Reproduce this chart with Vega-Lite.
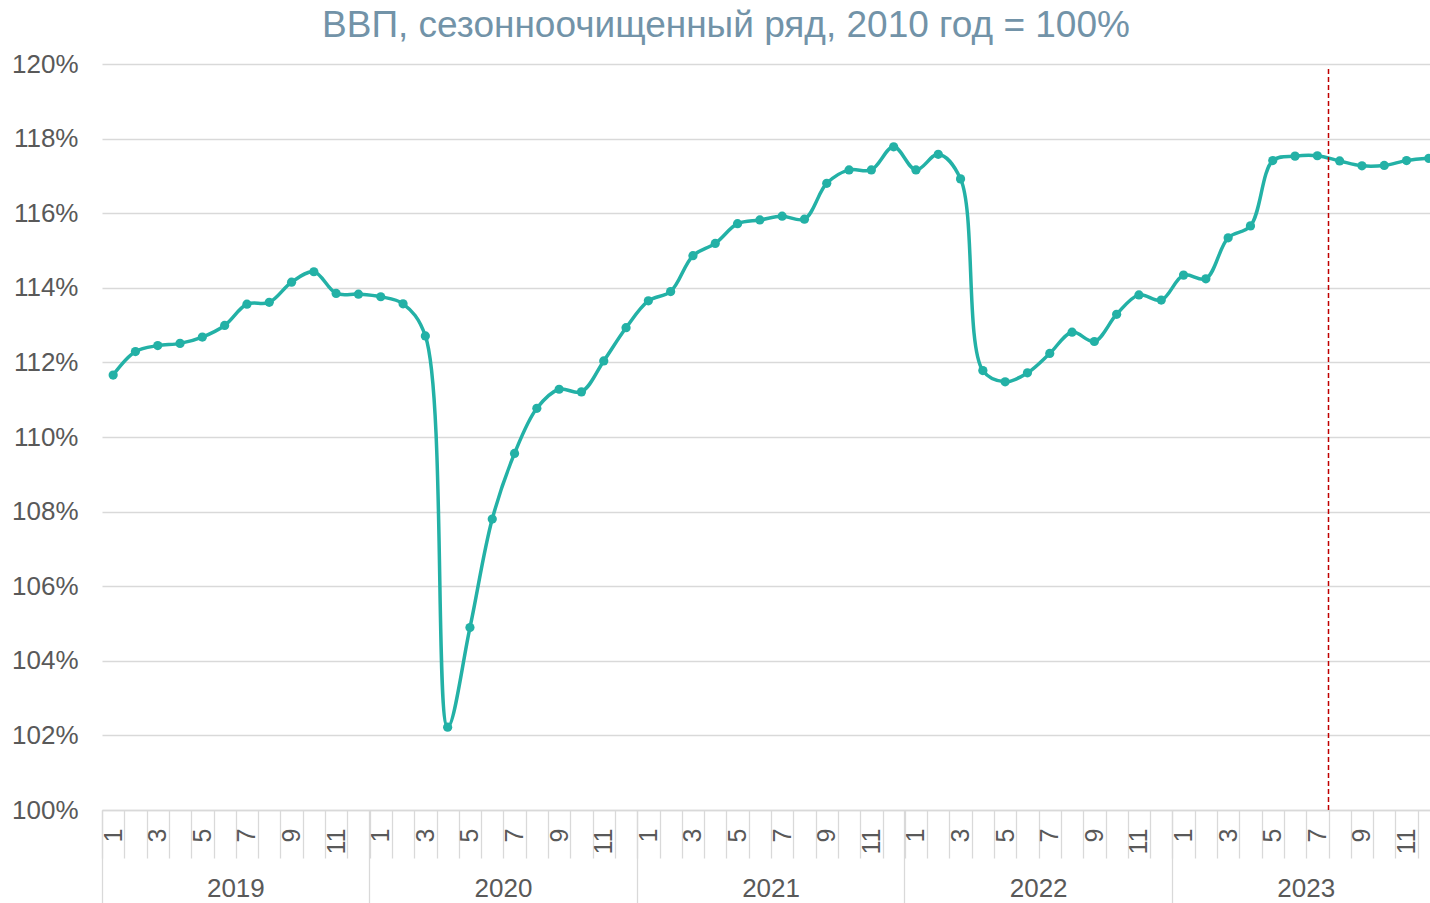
{
  "$schema": "https://vega.github.io/schema/vega-lite/v6.json",
  "width": 1328,
  "height": 746,
  "autosize": {"type": "none"},
  "padding": {"left": 102, "top": 64, "right": 0, "bottom": 93},
  "background": "white",
  "title": {
    "text": "ВВП, сезонноочищенный ряд, 2010 год = 100%",
    "font": "Liberation Sans",
    "fontSize": 37,
    "fontWeight": "normal",
    "color": "#7293A8",
    "anchor": "middle",
    "baseline": "alphabetic",
    "offset": -23,
    "dx": -40
  },
  "config": {"view": {"stroke": null}, "font": "Liberation Sans"},
  "datasets": {
    "gdp": [
      {"month": "2019-01", "value": 111.66}, {"month": "2019-02", "value": 112.29}, {"month": "2019-03", "value": 112.45},
      {"month": "2019-04", "value": 112.51}, {"month": "2019-05", "value": 112.68}, {"month": "2019-06", "value": 112.99},
      {"month": "2019-07", "value": 113.56}, {"month": "2019-08", "value": 113.61}, {"month": "2019-09", "value": 114.15},
      {"month": "2019-10", "value": 114.43}, {"month": "2019-11", "value": 113.85}, {"month": "2019-12", "value": 113.83},
      {"month": "2020-01", "value": 113.76}, {"month": "2020-02", "value": 113.57}, {"month": "2020-03", "value": 112.71},
      {"month": "2020-04", "value": 102.22}, {"month": "2020-05", "value": 104.89}, {"month": "2020-06", "value": 107.80},
      {"month": "2020-07", "value": 109.56}, {"month": "2020-08", "value": 110.77}, {"month": "2020-09", "value": 111.28},
      {"month": "2020-10", "value": 111.21}, {"month": "2020-11", "value": 112.04}, {"month": "2020-12", "value": 112.93},
      {"month": "2021-01", "value": 113.65}, {"month": "2021-02", "value": 113.90}, {"month": "2021-03", "value": 114.86},
      {"month": "2021-04", "value": 115.19}, {"month": "2021-05", "value": 115.72}, {"month": "2021-06", "value": 115.82},
      {"month": "2021-07", "value": 115.92}, {"month": "2021-08", "value": 115.84}, {"month": "2021-09", "value": 116.80},
      {"month": "2021-10", "value": 117.16}, {"month": "2021-11", "value": 117.16}, {"month": "2021-12", "value": 117.78},
      {"month": "2022-01", "value": 117.16}, {"month": "2022-02", "value": 117.58}, {"month": "2022-03", "value": 116.92},
      {"month": "2022-04", "value": 111.78}, {"month": "2022-05", "value": 111.48}, {"month": "2022-06", "value": 111.72},
      {"month": "2022-07", "value": 112.24}, {"month": "2022-08", "value": 112.81}, {"month": "2022-09", "value": 112.56},
      {"month": "2022-10", "value": 113.29}, {"month": "2022-11", "value": 113.81}, {"month": "2022-12", "value": 113.67},
      {"month": "2023-01", "value": 114.34}, {"month": "2023-02", "value": 114.24}, {"month": "2023-03", "value": 115.34},
      {"month": "2023-04", "value": 115.66}, {"month": "2023-05", "value": 117.41}, {"month": "2023-06", "value": 117.53},
      {"month": "2023-07", "value": 117.54}, {"month": "2023-08", "value": 117.40}, {"month": "2023-09", "value": 117.27},
      {"month": "2023-10", "value": 117.28}, {"month": "2023-11", "value": 117.41}, {"month": "2023-12", "value": 117.47}
    ],
    "marker": [{"month": "2023-08", "lo": 100, "hi": 119.9}]
  },
  "layer": [
    {
      "data": {"name": "gdp"},
      "mark": {"type": "line", "interpolate": "catmull-rom", "color": "#23B1A6", "strokeWidth": 3.5},
      "encoding": {
        "x": {
          "field": "month",
          "type": "ordinal",
          "sort": null,
          "scale": {"type": "band", "paddingInner": 0, "paddingOuter": 0, "range": [0, 1338]},
          "axis": {
            "title": null,
            "orient": "bottom",
            "tickBand": "extent",
            "tickSize": 48,
            "tickColor": "#D9D9D9",
            "tickWidth": 1.3,
            "domain": true,
            "domainColor": "#D9D9D9",
            "domainWidth": 1.3,
            "labelAngle": 270,
            "labelPadding": -30,
            "labelFontSize": 25,
            "labelColor": "#595959",
            "labelFont": "Liberation Sans",
            "labelOverlap": false,
            "labelBound": false,
            "labelExpr": "toNumber(substring(datum.value, 5, 7)) % 2 == 1 ? '' + toNumber(substring(datum.value, 5, 7)) : ''",
            "grid": false
          }
        },
        "y": {
          "field": "value",
          "type": "quantitative",
          "scale": {"domain": [100, 120], "nice": false, "zero": false},
          "axis": {
            "title": null,
            "values": [100, 102, 104, 106, 108, 110, 112, 114, 116, 118, 120],
            "labelExpr": "datum.value + '%'",
            "labelFontSize": 26,
            "labelColor": "#595959",
            "labelFont": "Liberation Sans",
            "labelPadding": 24,
            "ticks": false,
            "domain": false,
            "grid": true,
            "gridColor": "#D9D9D9",
            "gridWidth": 1.3
          }
        }
      }
    },
    {
      "data": {"name": "gdp"},
      "mark": {"type": "point", "filled": true, "size": 85, "color": "#23B1A6", "opacity": 1},
      "encoding": {
        "x": {
          "field": "month",
          "type": "ordinal",
          "sort": null,
          "axis": {
            "title": null,
            "orient": "bottom",
            "values": ["2019-01", "2020-01", "2021-01", "2022-01", "2023-01"],
            "bandPosition": 0,
            "tickSize": 93,
            "tickColor": "#D9D9D9",
            "tickWidth": 1.3,
            "domain": false,
            "labelAngle": 0,
            "labelAlign": "center",
            "labelBaseline": "top",
            "labelOffset": 122.7,
            "labelPadding": -28,
            "labelFontSize": 26,
            "labelColor": "#595959",
            "labelFont": "Liberation Sans",
            "labelOverlap": false,
            "labelBound": false,
            "labelExpr": "substring(datum.value, 0, 4)",
            "grid": false
          }
        },
        "y": {"field": "value", "type": "quantitative", "axis": null}
      }
    },
    {
      "data": {"name": "marker"},
      "mark": {"type": "rule", "color": "#C00000", "strokeDash": [5, 3], "strokeWidth": 1.5},
      "encoding": {
        "x": {"field": "month", "type": "ordinal", "bandPosition": 0, "axis": null},
        "y": {"field": "lo", "type": "quantitative", "axis": null},
        "y2": {"field": "hi"}
      }
    }
  ],
  "resolve": {"axis": {"x": "independent", "y": "independent"}}
}
